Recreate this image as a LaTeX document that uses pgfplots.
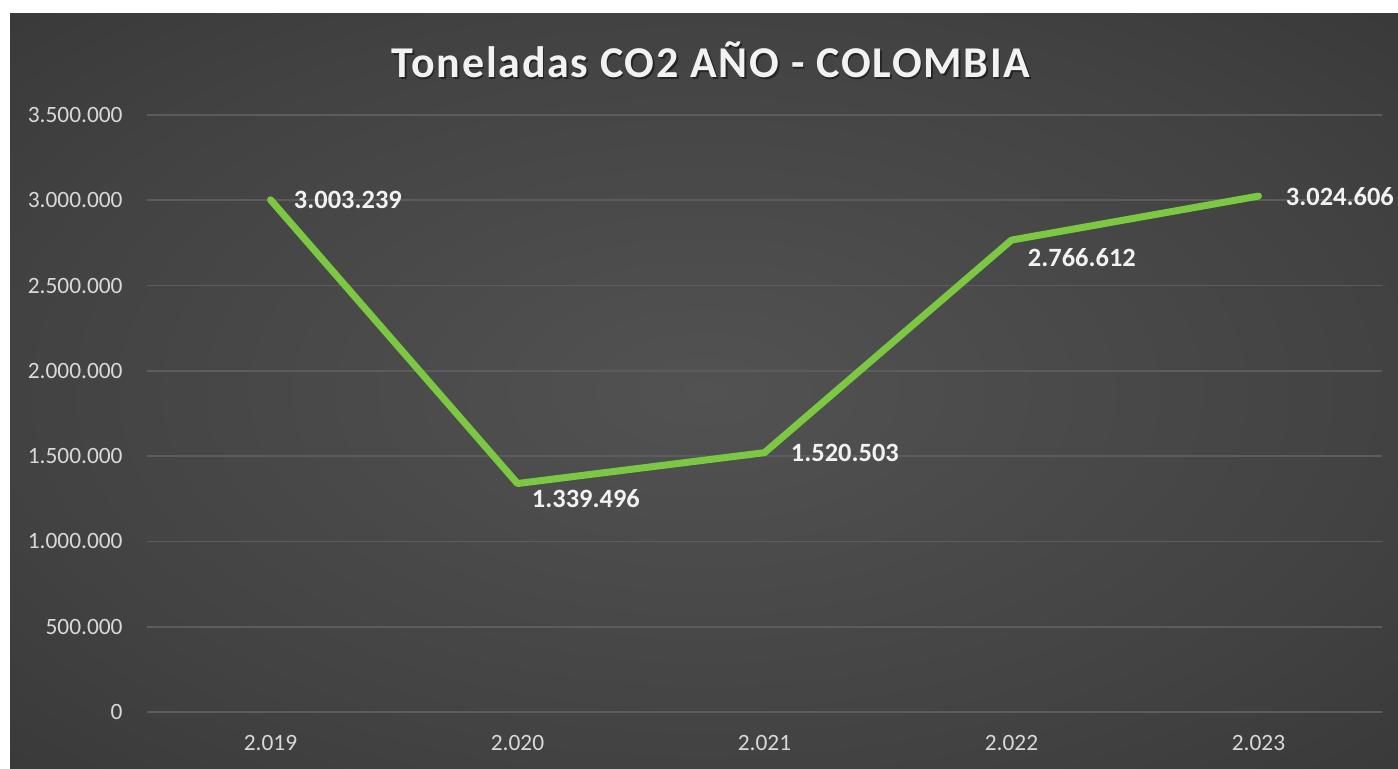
\documentclass[border=0pt]{standalone}
\usepackage{fontspec}
\setmainfont{Carlito}
\newfontfamily\titlefont[LetterSpace=4]{Carlito}
\usepackage{pgfplots}
\pgfplotsset{compat=1.18}

\definecolor{lineg}{RGB}{124,200,66}
\definecolor{gridc}{RGB}{92,92,92}
\definecolor{tickc}{RGB}{217,217,217}
\definecolor{labc}{RGB}{242,242,242}
\definecolor{bgin}{RGB}{82,82,82}
\definecolor{bgmid}{RGB}{66,66,66}
\definecolor{bgout}{RGB}{46,46,46}
\definecolor{bgcorner}{RGB}{36,36,36}
\pgfdeclareradialshading{chartbg}{\pgfpoint{0bp}{0bp}}{color(0bp)=(bgin); color(25bp)=(bgmid); color(50bp)=(bgout); color(71bp)=(bgcorner)}

% year, tonnes, label text, label shift (pt)
\pgfplotstableread{
x y lab dx dy
0 3003239 3.003.239 10 0
1 1339496 1.339.496 5.5 -7.5
2 1520503 1.520.503 11.5 0
3 2766612 2.766.612 6.5 -8.5
4 3024606 3.024.606 12 0
}\co

\begin{document}
\begin{tikzpicture}
\useasboundingbox (0,0) rectangle (699pt,384pt);
\fill[white] (0,0) rectangle (699pt,384pt);
\shade[shading=chartbg] (5pt,0) rectangle (699pt,377pt);
\node[text=black, opacity=0.45, font=\titlefont\bfseries\fontsize{22}{26}\selectfont] at (356.3pt,353.2pt) {Toneladas CO2 AÑO - COLOMBIA};
\node[text=labc, font=\titlefont\bfseries\fontsize{22}{26}\selectfont] at (355.5pt,354pt) {Toneladas CO2 AÑO - COLOMBIA};
\begin{axis}[
    at={(73.5pt,28pt)}, anchor=south west,
    scale only axis,
    width=617.5pt, height=298.5pt,
    xmin=-0.5, xmax=4.5,
    ymin=0, ymax=3500000,
    axis line style={draw=none},
    major tick length=0pt,
    xtick={0,1,2,3,4},
    xticklabels={2.019,2.020,2.021,2.022,2.023},
    ytick={0,500000,1000000,1500000,2000000,2500000,3000000,3500000},
    scaled y ticks=false,
    yticklabel={\pgfmathprintnumber[fixed,precision=0,1000 sep={.},assume math mode=true]{\tick}},
    ymajorgrids,
    grid style={gridc, line width=0.8pt},
    ticklabel style={text=tickc, font=\fontsize{11.7}{14}\selectfont, inner sep=0pt},
    yticklabel style={anchor=east, xshift=-12pt},
    xticklabel style={anchor=north, yshift=-11.5pt},
    clip=false,
]
\addplot[
    lineg, line width=3.5pt, line join=round, line cap=round,
    point meta=explicit symbolic,
    nodes near coords,
    visualization depends on={\thisrow{dx} \as \dx},
    visualization depends on={\thisrow{dy} \as \dy},
    every node near coord/.append style={anchor=west, inner sep=0pt,
        xshift=\dx pt, yshift=\dy pt, text=labc,
        font=\bfseries\fontsize{13.2}{15}\selectfont},
] table[x=x, y=y, meta=lab] {\co};
\end{axis}
\end{tikzpicture}
\end{document}
